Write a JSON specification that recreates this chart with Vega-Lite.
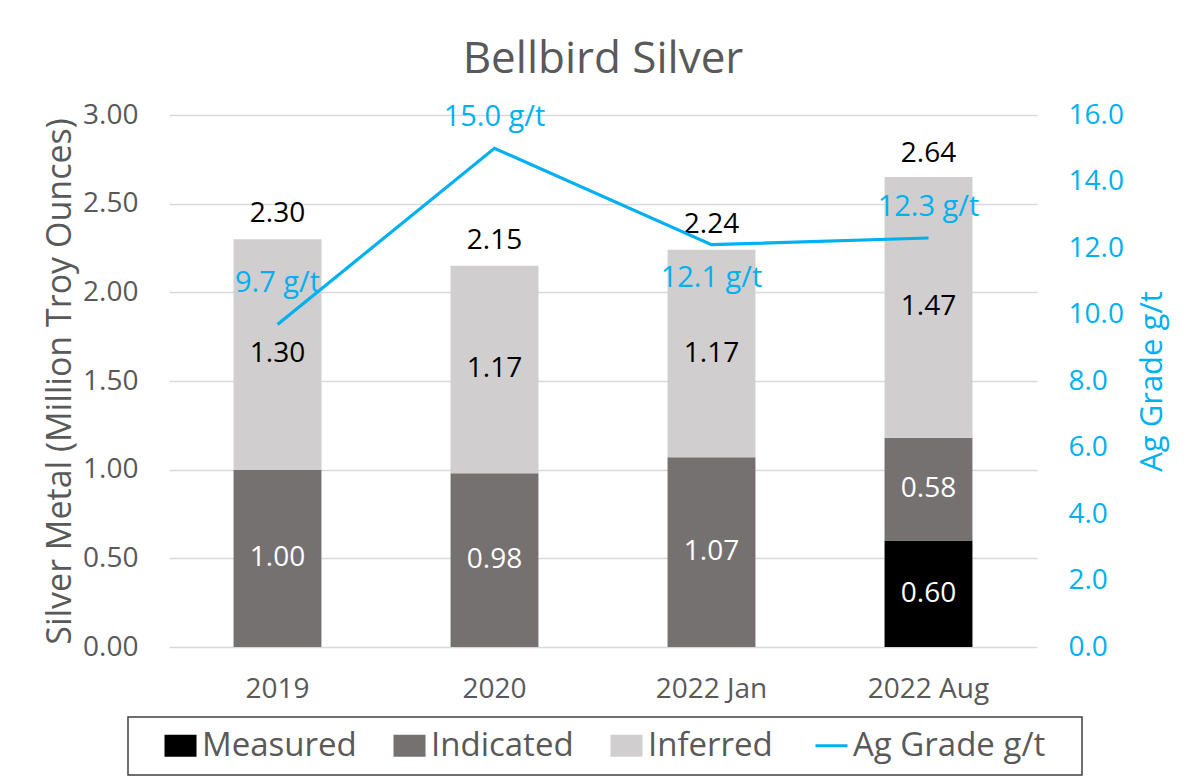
{
  "$schema": "https://vega.github.io/schema/vega-lite/v6.json",
  "width": 868,
  "height": 532,
  "autosize": {"type": "none"},
  "padding": {"left": 169, "top": 115, "right": 152, "bottom": 130},
  "background": "white",
  "config": {
    "font": "Open Sans",
    "view": {"stroke": null},
    "axis": {"labelColor": "#595959", "titleColor": "#595959", "labelFont": "Open Sans", "titleFont": "Open Sans", "titleFontWeight": "normal"}
  },
  "title": {
    "text": "Bellbird Silver",
    "fontSize": 44,
    "fontWeight": "normal",
    "font": "Open Sans",
    "color": "#595959",
    "anchor": "middle",
    "frame": "group",
    "baseline": "alphabetic",
    "offset": -16
  },
  "datasets": {
    "bars": [
      {"period": "2019", "series": "Indicated", "ord": 2, "value": 1.00},
      {"period": "2019", "series": "Inferred", "ord": 3, "value": 1.30},
      {"period": "2020", "series": "Indicated", "ord": 2, "value": 0.98},
      {"period": "2020", "series": "Inferred", "ord": 3, "value": 1.17},
      {"period": "2022 Jan", "series": "Indicated", "ord": 2, "value": 1.07},
      {"period": "2022 Jan", "series": "Inferred", "ord": 3, "value": 1.17},
      {"period": "2022 Aug", "series": "Measured", "ord": 1, "value": 0.60},
      {"period": "2022 Aug", "series": "Indicated", "ord": 2, "value": 0.58},
      {"period": "2022 Aug", "series": "Inferred", "ord": 3, "value": 1.47}
    ],
    "periods": [
      {"period": "2019", "total": 2.30, "grade": 9.7, "label": "9.7 g/t"},
      {"period": "2020", "total": 2.15, "grade": 15.0, "label": "15.0 g/t"},
      {"period": "2022 Jan", "total": 2.24, "grade": 12.1, "label": "12.1 g/t"},
      {"period": "2022 Aug", "total": 2.64, "grade": 12.3, "label": "12.3 g/t"}
    ]
  },
  "encoding": {
    "x": {
      "field": "period",
      "type": "nominal",
      "sort": ["2019", "2020", "2022 Jan", "2022 Aug"],
      "scale": {"paddingInner": 0.595, "paddingOuter": 0.2975},
      "axis": {"title": null, "labelAngle": 0, "domain": false, "ticks": false, "tickSize": 0, "labelPadding": 28, "labelFontSize": 28, "labelColor": "#595959"}
    }
  },
  "layer": [
    {
      "layer": [
        {
          "data": {"name": "bars"},
          "mark": {"type": "bar"},
          "encoding": {
            "y": {
              "field": "value",
              "type": "quantitative",
              "stack": "zero",
              "scale": {"domain": [0, 3], "nice": false},
              "axis": {
                "title": "Silver Metal (Million Troy Ounces)",
                "values": [0, 0.5, 1, 1.5, 2, 2.5, 3],
                "format": ".2f",
                "grid": true,
                "gridColor": "#D9D9D9",
                "gridWidth": 1.3,
                "domain": false,
                "ticks": false,
                "tickSize": 0,
                "labelPadding": 31,
                "labelFontSize": 28,
                "titleFontSize": 34,
                "titlePadding": 5
              }
            },
            "color": {
              "field": "series",
              "type": "nominal",
              "scale": {
                "domain": ["Measured", "Indicated", "Inferred", "Ag Grade g/t"],
                "range": ["#000000", "#767171", "#D0CECE", "#00B0F0"]
              },
              "legend": {
                "orient": "none",
                "legendX": -41,
                "legendY": 602,
                "direction": "horizontal",
                "columns": 4,
                "title": "\u2800",
                "titleOrient": "left",
                "titleFontSize": 33,
                "titlePadding": 0,
                "labelFontSize": 33,
                "labelFont": "Open Sans",
                "labelColor": "#595959",
                "labelOffset": 5,
                "labelLimit": 400,
                "columnPadding": 36,
                "padding": 12,
                "strokeColor": "#404040",
                "fillColor": "white",
                "symbolSize": 1024,
                "symbolStrokeWidth": 0,
                "labelExpr": "datum.value === 'Ag Grade g/t' ? 'Ag Grade g/t\u2800' : datum.label",
                "encode": {
                  "legend": {"update": {"strokeWidth": {"value": 1.5}}},
                  "symbols": {
                    "update": {
                      "shape": {"signal": "datum.value === 'Ag Grade g/t' ? 'stroke' : 'M-1,-0.6875H1V0.6875H-1Z'"},
                      "strokeWidth": {"signal": "datum.value === 'Ag Grade g/t' ? 3 : 0"},
                      "fill": {"scale": "color", "field": "value"},
                      "stroke": {"scale": "color", "field": "value"},
                      "opacity": {"value": 1},
                      "size": {"value": 1024}
                    }
                  }
                }
              }
            },
            "order": {"field": "ord", "type": "quantitative"}
          }
        },
        {
          "data": {"name": "bars"},
          "mark": {"type": "text", "fontSize": 28, "baseline": "middle", "font": "Open Sans"},
          "encoding": {
            "y": {"field": "value", "type": "quantitative", "stack": "zero", "bandPosition": 0.5},
            "detail": {"field": "series", "type": "nominal"},
            "order": {"field": "ord", "type": "quantitative"},
            "text": {"field": "value", "type": "quantitative", "format": ".2f"},
            "fill": {"condition": {"test": "datum.series === 'Inferred'", "value": "#000000"}, "value": "#FFFFFF"}
          }
        },
        {
          "data": {"name": "periods"},
          "mark": {"type": "text", "fontSize": 28, "baseline": "middle", "dy": -25, "color": "#000000", "font": "Open Sans"},
          "encoding": {
            "y": {"field": "total", "type": "quantitative"},
            "text": {"field": "total", "type": "quantitative", "format": ".2f"}
          }
        }
      ]
    },
    {
      "layer": [
        {
          "data": {"name": "periods"},
          "mark": {"type": "line", "strokeWidth": 3.2},
          "encoding": {
            "y": {
              "field": "grade",
              "type": "quantitative",
              "scale": {"domain": [0, 16], "nice": false},
              "axis": {
                "orient": "right",
                "title": "Ag Grade g/t",
                "values": [0, 2, 4, 6, 8, 10, 12, 14, 16],
                "format": ".1f",
                "grid": false,
                "domain": false,
                "ticks": false,
                "tickSize": 0,
                "labelPadding": 31,
                "labelFontSize": 28,
                "labelColor": "#00B0F0",
                "titleColor": "#00B0F0",
                "titleFontSize": 31,
                "titleAngle": 270,
                "titleBaseline": "top",
                "titlePadding": 14
              }
            },
            "color": {"datum": "Ag Grade g/t"}
          }
        },
        {
          "data": {"name": "periods"},
          "transform": [{"filter": "datum.period === '2019'"}],
          "mark": {"type": "text", "fontSize": 29, "baseline": "middle", "dy": -41, "color": "#00B0F0", "font": "Open Sans"},
          "encoding": {
            "y": {"field": "grade", "type": "quantitative"},
            "text": {"field": "label", "type": "nominal"}
          }
        },
        {
          "data": {"name": "periods"},
          "transform": [{"filter": "datum.period === '2020' || datum.period === '2022 Aug'"}],
          "mark": {"type": "text", "fontSize": 29, "baseline": "middle", "dy": -31, "color": "#00B0F0", "font": "Open Sans"},
          "encoding": {
            "y": {"field": "grade", "type": "quantitative"},
            "text": {"field": "label", "type": "nominal"}
          }
        },
        {
          "data": {"name": "periods"},
          "transform": [{"filter": "datum.period === '2022 Jan'"}],
          "mark": {"type": "text", "fontSize": 29, "baseline": "middle", "dy": 33, "color": "#00B0F0", "font": "Open Sans"},
          "encoding": {
            "y": {"field": "grade", "type": "quantitative"},
            "text": {"field": "label", "type": "nominal"}
          }
        }
      ]
    }
  ],
  "resolve": {"scale": {"y": "independent"}}
}
